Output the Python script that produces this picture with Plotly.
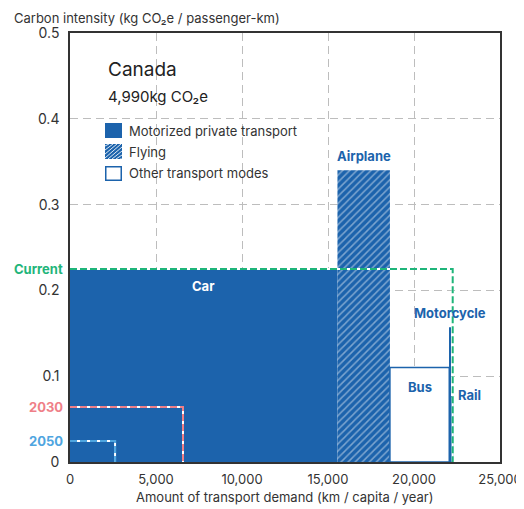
import plotly.graph_objects as go

# ---------------- data ----------------
modes = ["Car", "Airplane", "Bus", "Motorcycle", "Rail"]
mode_types = ["private", "flying", "other", "private", "other"]
demand_km = [15550, 3050, 3450, 100, 100]          # km / capita / year (bar widths)
intensity = [0.224, 0.340, 0.110, 0.157, 0.076]    # kg CO2e / passenger-km (bar heights)

scenarios = ["Current", "2030", "2050"]
scenario_demand = [22250, 6570, 2620]
scenario_intensity = [0.225, 0.064, 0.0245]

x_ticks = [0, 5000, 10000, 15000, 20000, 25000]
x_tick_labels = ["0", "5,000", "10,000", "15,000", "20,000", "25,000"]
y_ticks = [0, 0.1, 0.2, 0.3, 0.4, 0.5]
y_tick_labels = ["0", "0.1", "0.2", "0.3", "0.4", "0.5"]

country = "Canada"
total_label = "4,990kg CO₂e"
legend_labels = ["Motorized private transport", "Flying", "Other transport modes"]

# ---------------- styling ----------------
BLUE = "#1c63ac"
SCEN_COLORS = {"Current": "#1fb57a", "2030": "#ef7f88", "2050": "#4ea5e0"}
FONT = "Inter"
TXT = "#333333"

# page body has an 8px default margin; offset the figure so the plot area lands right
OFF = 8
WIN_W, WIN_H = 524, 509
PLOT_X0, PLOT_X1, PLOT_Y0, PLOT_Y1 = 70, 500, 33, 462   # plot area in window pixels
W, H = WIN_W, WIN_H - OFF
L, T = PLOT_X0 - OFF, PLOT_Y0 - OFF
R = W - (PLOT_X1 - OFF)
B = H - (PLOT_Y1 - OFF)
PW, PH = PLOT_X1 - PLOT_X0, PLOT_Y1 - PLOT_Y0


def px(x):
    return (x - PLOT_X0) / PW


def py(y):
    return (PLOT_Y1 - y) / PH


fig = go.Figure()

# bars (positioned through the data axis)
lefts = []
acc = 0
for w in demand_km:
    lefts.append(acc)
    acc += w
centers = [l + w / 2 for l, w in zip(lefts, demand_km)]

for t in ["private", "flying", "other"]:
    idx = [i for i, m in enumerate(mode_types) if m == t]
    xs = [centers[i] for i in idx]
    ys = [intensity[i] for i in idx]
    ws = [demand_km[i] for i in idx]
    if t == "private":
        marker = dict(color=BLUE, line=dict(width=0))
    elif t == "flying":
        marker = dict(color=BLUE, line=dict(width=0),
                      pattern=dict(shape="/", fgcolor="rgba(255,255,255,0.85)",
                                   size=5, solidity=0.3))
    else:
        marker = dict(color="white", line=dict(color=BLUE, width=1.5))
    fig.add_trace(go.Bar(x=xs, y=ys, width=ws, marker=marker,
                         showlegend=False, hoverinfo="skip"))

# scenario step lines
for name, d, c in zip(scenarios, scenario_demand, scenario_intensity):
    xs = [0, d, d]
    ys = [c, c, 0]
    fig.add_trace(go.Scatter(x=xs, y=ys, mode="lines",
                             line=dict(color="white", width=2),
                             showlegend=False, hoverinfo="skip"))
    fig.add_trace(go.Scatter(x=xs, y=ys, mode="lines",
                             line=dict(color=SCEN_COLORS[name], width=2, dash="7px,3px"),
                             showlegend=False, hoverinfo="skip"))
    fig.add_annotation(xref="paper", x=px(65), y=c, yref="y", text=f"<b>{name}</b>",
                       showarrow=False, xanchor="right", yanchor="middle",
                       font=dict(family=FONT, size=13, color=SCEN_COLORS[name]))

# bar labels
i_car, i_air, i_bus, i_moto, i_rail = range(5)
fig.add_annotation(x=centers[i_car], y=intensity[i_car], text="<b>Car</b>", showarrow=False,
                   yanchor="top", yshift=-6, font=dict(family=FONT, size=13, color="white"))
fig.add_annotation(x=centers[i_air], y=intensity[i_air], text="<b>Airplane</b>", showarrow=False,
                   yanchor="bottom", yshift=4, font=dict(family=FONT, size=13, color=BLUE))
fig.add_annotation(x=centers[i_bus], y=intensity[i_bus], text="<b>Bus</b>", showarrow=False,
                   yanchor="top", yshift=-9, font=dict(family=FONT, size=13, color=BLUE))
fig.add_annotation(x=centers[i_moto], y=intensity[i_moto], text="<b>Motorcycle</b>", showarrow=False,
                   yanchor="bottom", yshift=4, font=dict(family=FONT, size=13, color=BLUE))
fig.add_annotation(x=lefts[i_rail] + demand_km[i_rail], y=intensity[i_rail], text="<b>Rail</b>",
                   showarrow=False, xanchor="left", yanchor="middle", xshift=3, yshift=2,
                   font=dict(family=FONT, size=13, color=BLUE))

# titles
fig.add_annotation(xref="paper", yref="paper", x=px(106), y=py(70), text=country,
                   showarrow=False, xanchor="left", yanchor="middle",
                   font=dict(family=FONT, size=19, color="#222"))
fig.add_annotation(xref="paper", yref="paper", x=px(106), y=py(96), text=total_label,
                   showarrow=False, xanchor="left", yanchor="middle",
                   font=dict(family=FONT, size=15, color="#222"))
fig.add_annotation(xref="paper", yref="paper", x=px(12), y=py(8),
                   text="Carbon intensity (kg CO₂e / passenger-km)",
                   showarrow=False, xanchor="left", yanchor="top",
                   font=dict(family=FONT, size=13, color=TXT))
fig.add_annotation(xref="paper", yref="paper", x=0.5, y=py(497),
                   text="Amount of transport demand (km / capita / year)",
                   showarrow=False, xanchor="center", yanchor="middle",
                   font=dict(family=FONT, size=13, color=TXT))

# legend (manual)
shapes = []
sq = [(105, 122, 123, 138), (105, 122, 144, 159), (105, 122, 166, 181)]
for k, (x0, x1, y0, y1) in enumerate(sq):
    if k == 0:
        shapes.append(dict(type="rect", xref="paper", yref="paper", x0=px(x0), x1=px(x1),
                           y0=py(y1), y1=py(y0), fillcolor=BLUE, line=dict(width=0)))
    elif k == 1:
        shapes.append(dict(type="rect", xref="paper", yref="paper", x0=px(x0), x1=px(x1),
                           y0=py(y1), y1=py(y0), fillcolor=BLUE, line=dict(width=0)))
        size = x1 - x0
        path = ""
        for off in range(-size, size + 1, 4):
            ax, ay = x0 + off, y1
            bx, by = x0 + off + size, y0
            if ax < x0:
                ay = y1 - (x0 - ax)
                ax = x0
            if bx > x1:
                by = y0 + (bx - x1)
                bx = x1
            if ax >= bx:
                continue
            path += f"M{px(ax)},{py(ay)} L{px(bx)},{py(by)} "
        shapes.append(dict(type="path", xref="paper", yref="paper", path=path,
                           line=dict(color="rgba(255,255,255,0.85)", width=1)))
    else:
        shapes.append(dict(type="rect", xref="paper", yref="paper", x0=px(x0 + 0.75), x1=px(x1 - 0.75),
                           y0=py(y1 - 0.75), y1=py(y0 + 0.75), fillcolor="white",
                           line=dict(color=BLUE, width=1.5)))
    fig.add_annotation(xref="paper", yref="paper", x=px(127), y=py((y0 + y1) / 2),
                       text=legend_labels[k], showarrow=False, xanchor="left", yanchor="middle",
                       font=dict(family=FONT, size=13, color=TXT))

fig.update_layout(
    width=W, height=H,
    margin=dict(l=L, r=R, t=T, b=B, autoexpand=False),
    plot_bgcolor="white", paper_bgcolor="white",
    barmode="overlay",
    showlegend=False,
    shapes=shapes,
    font=dict(family=FONT, size=13, color=TXT),
    xaxis=dict(range=[0, 25000], tickvals=x_ticks, ticktext=x_tick_labels, automargin=False,
               showgrid=True, gridcolor="#bdbdbd", griddash="8px,5px", gridwidth=1,
               zeroline=False, showline=True, linecolor="#333", linewidth=1.5, mirror=True,
               ticks="", ticklabelstandoff=5, ticklabeloverflow="allow",
               tickfont=dict(family=FONT, size=13, color=TXT)),
    yaxis=dict(range=[0, 0.5], tickvals=y_ticks, ticktext=y_tick_labels, automargin=False,
               showgrid=True, gridcolor="#bdbdbd", griddash="8px,5px", gridwidth=1,
               zeroline=False, showline=True, linecolor="#333", linewidth=1.5, mirror=True,
               ticks="", ticklabelstandoff=6, tickfont=dict(family=FONT, size=14, color=TXT)),
)

fig.write_html("out.html")
